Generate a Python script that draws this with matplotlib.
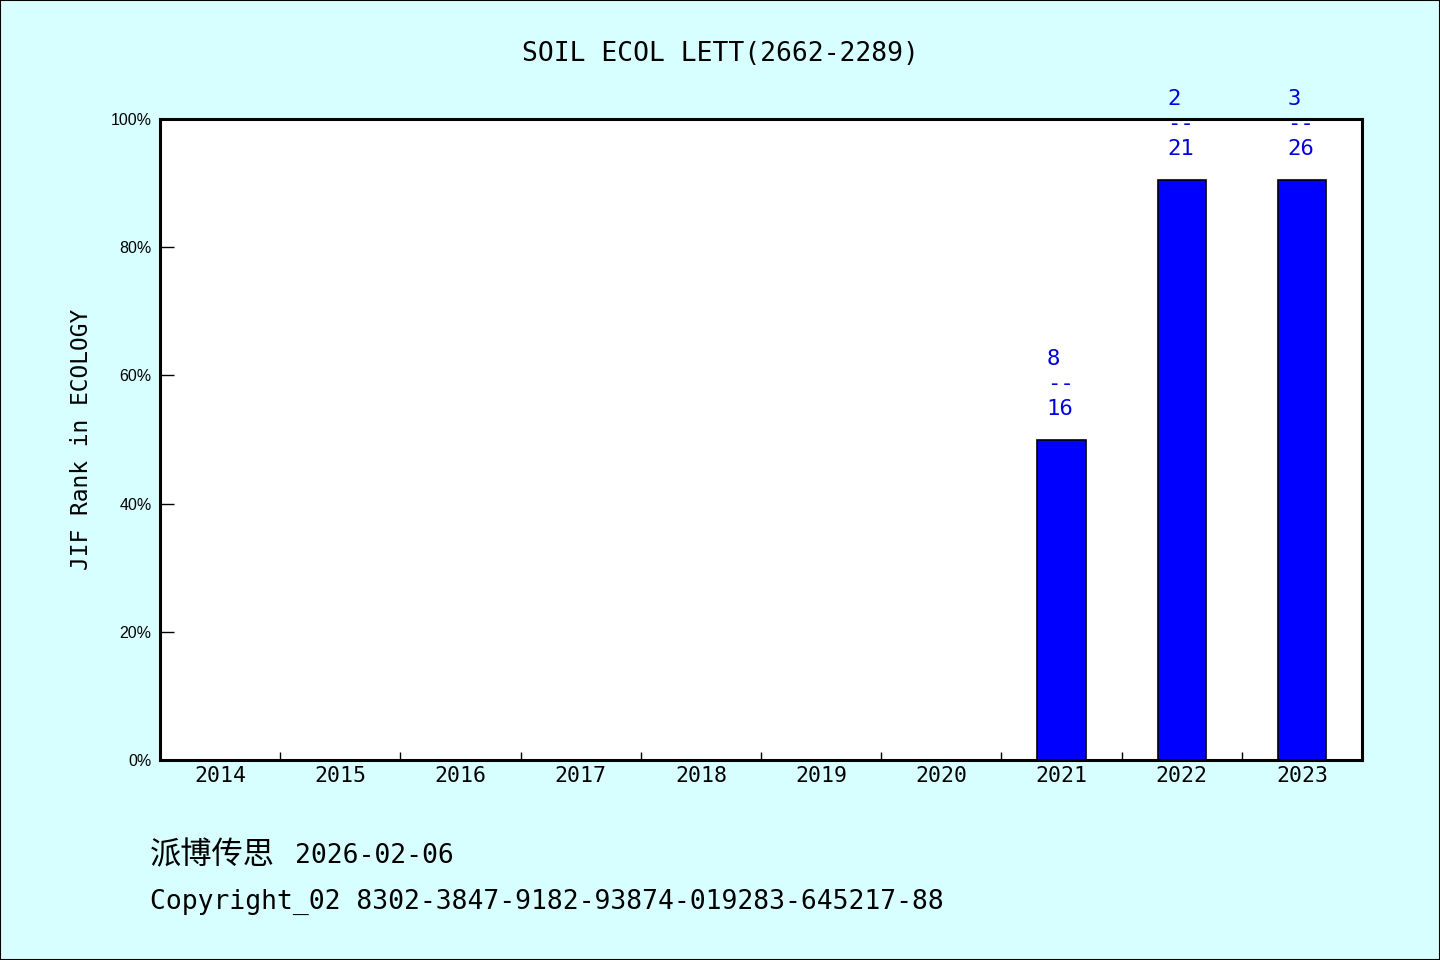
import numpy as np
import matplotlib.pyplot as plt
from matplotlib.patches import Rectangle

years = ["2014", "2015", "2016", "2017", "2018", "2019", "2020", "2021", "2022", "2023"]
rank_pct = [0, 0, 0, 0, 0, 0, 0, 50.0, 90.5, 90.5]
rank_pos = [None, None, None, None, None, None, None, 8, 2, 3]
rank_total = [None, None, None, None, None, None, None, 16, 21, 26]
y_ticks = [0, 20, 40, 60, 80, 100]

bg = "#d8ffff"
mono = ["DejaVu Sans Mono", "Noto Sans CJK SC"]

fig = plt.figure(figsize=(14.4, 9.6), dpi=100, facecolor=bg)
ax = fig.add_axes([160 / 1440, 1 - 760 / 960, 1202 / 1440, 641 / 960])
ax.set_facecolor("white")

x = np.arange(len(years))
ax.bar(x, rank_pct, width=0.4, color="#0000ff", edgecolor="black", linewidth=1.2, zorder=2)

# rank labels above the bars
for xi, v, p, t in zip(x, rank_pct, rank_pos, rank_total):
    if p is None:
        continue
    ax.annotate(f"{p}\n--\n{t}", (xi, v), xytext=(-1, 15), textcoords="offset points",
                ha="center", va="bottom", multialignment="left", color="#0000dd",
                fontsize=16, family=mono, linespacing=1.3, annotation_clip=False,
                zorder=5)

ax.set_xlim(-0.5, len(years) - 0.5)
ax.set_ylim(0, 100)

ax.set_yticks(y_ticks)
ax.set_yticklabels([f"{v}%" for v in y_ticks], family="Liberation Sans", fontsize=11.5)
ax.tick_params(axis="y", direction="in", length=10, width=1, pad=6)

ax.set_xticks(x)
ax.set_xticklabels(years, family=mono, fontsize=15.5)
ax.tick_params(axis="x", length=0, pad=4)
ax.set_xticks(np.arange(len(years) + 1) - 0.5, minor=True)
ax.tick_params(axis="x", which="minor", direction="in", length=6, width=1)

for s in ax.spines.values():
    s.set_linewidth(2.2)
    s.set_color("black")

ax.set_ylabel("JIF Rank in ECOLOGY", family=mono, fontsize=16.5)
ax.yaxis.set_label_coords(-0.056, 0.5)

fig.text(0.5, 1 - 54 / 960, "SOIL ECOL LETT(2662-2289)", ha="center", va="center",
         family=mono, fontsize=19)
fig.text(150 / 1440, 1 - 856 / 960, "派博传思", ha="left", va="center",
         family=mono, fontsize=22.5)
fig.text(295 / 1440, 1 - 856 / 960, "2026-02-06", ha="left", va="center",
         family=mono, fontsize=19)
fig.text(150 / 1440, 1 - 902 / 960, "Copyright_02 8302-3847-9182-93874-019283-645217-88",
         ha="left", va="center", family=mono, fontsize=19)

fig.patches.append(Rectangle((0, 0), 1, 1, transform=fig.transFigure, fill=False,
                             edgecolor="black", linewidth=1.5))

fig.savefig("out.png", dpi=100, facecolor=bg)
